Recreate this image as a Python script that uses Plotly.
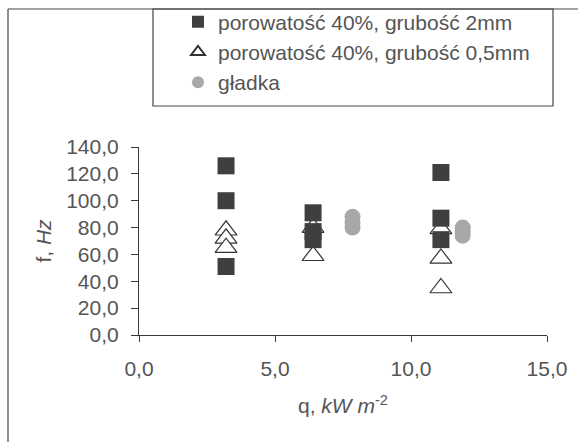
import plotly.graph_objects as go

# ---- data ----
q_2mm = [3.2, 3.2, 3.2, 6.4, 6.4, 6.4, 11.1, 11.1, 11.1]
f_2mm = [126, 100, 51, 91, 77, 71, 121, 87, 71]

q_05mm = [3.2, 3.2, 3.2, 6.4, 6.4, 11.1, 11.1, 11.1]
f_05mm = [78, 72, 65, 80, 59, 79, 57, 35]

q_smooth = [7.85, 7.85, 7.85, 11.9, 11.9, 11.9]
f_smooth = [88, 84, 80, 80, 77, 74]

x_tickvals = [0, 5, 10, 15]
x_ticktext = ["0,0", "5,0", "10,0", "15,0"]
y_tickvals = [0, 20, 40, 60, 80, 100, 120, 140]
y_ticktext = ["0,0", "20,0", "40,0", "60,0", "80,0", "100,0", "120,0", "140,0"]

names = ["porowatość 40%, grubość 2mm", "porowatość 40%, grubość 0,5mm", "gładka"]

FONT = "Liberation Sans, Arial, sans-serif"
TXT = "#555555"
AX = "#3a3a3a"

fig = go.Figure()
fig.add_trace(go.Scatter(
    x=q_05mm, y=f_05mm, mode="markers", name=names[1], legendrank=2,
    marker=dict(symbol="triangle-up", size=19, color="white",
                line=dict(color="#333333", width=1.2)),
))
fig.add_trace(go.Scatter(
    x=q_2mm, y=f_2mm, mode="markers", name=names[0], legendrank=1,
    marker=dict(symbol="square", size=17, color="#3f3f3f",
                line=dict(color="#3f3f3f", width=0)),
))
fig.add_trace(go.Scatter(
    x=q_smooth, y=f_smooth, mode="markers", name=names[2], legendrank=3,
    marker=dict(symbol="circle", size=16, color="#a8a8a8",
                line=dict(width=0)),
))

# plot area in pixels: x 139..547, y 147..335
W, H = 578, 442
L, R, T, B = 139, 547, 147, 335
pw, ph = R - L, B - T

def px(xp):
    return (xp - L) / pw

def py(yp):
    return (B - yp) / ph

fig.update_layout(
    width=W, height=H,
    margin=dict(l=L, r=W - R, t=T, b=H - B, pad=0, autoexpand=False),
    paper_bgcolor="white", plot_bgcolor="white",
    font=dict(family=FONT, size=21, color=TXT),
    showlegend=True,
    legend=dict(
        x=px(178), y=py(1.5), xanchor="left", yanchor="top",
        bgcolor="rgba(0,0,0,0)", borderwidth=0,
        font=dict(family=FONT, size=21, color=TXT),
        traceorder="normal", itemsizing="constant",
    ),
    xaxis=dict(
        range=[0, 15], tickvals=x_tickvals, ticktext=x_ticktext,
        showgrid=False, zeroline=False, showline=True, linecolor=AX, linewidth=1.2,
        ticks="outside", ticklen=6, tickcolor=AX, tickwidth=1.2,
        ticklabelstandoff=9, automargin=False,
        tickfont=dict(family=FONT, size=21, color=TXT),
        title=dict(text="q, <i>kW m</i><sup>-2</sup>", standoff=19,
                   font=dict(family=FONT, size=21, color=TXT)),
        fixedrange=True,
    ),
    yaxis=dict(
        range=[0, 140], tickvals=y_tickvals, ticktext=y_ticktext,
        showgrid=False, zeroline=False, showline=True, linecolor=AX, linewidth=1.2,
        ticks="outside", ticklen=7, tickcolor=AX, tickwidth=1.2,
        ticklabelstandoff=8, automargin=False,
        tickfont=dict(family=FONT, size=21, color=TXT),
        title=dict(text="f, <i>Hz</i>", standoff=8,
                   font=dict(family=FONT, size=21, color=TXT)),
        fixedrange=True,
    ),
    shapes=[
        # legend box
        dict(type="rect", xref="paper", yref="paper",
             x0=px(153), x1=px(553), y0=py(106), y1=py(9),
             line=dict(color="#444444", width=1.2), fillcolor="rgba(0,0,0,0)"),
        # outer chart frame (left and top edges)
        dict(type="line", xref="paper", yref="paper",
             x0=px(8), x1=px(8), y0=py(9), y1=py(445),
             line=dict(color="#444444", width=1.2)),
        dict(type="line", xref="paper", yref="paper",
             x0=px(8), x1=px(580), y0=py(9), y1=py(9),
             line=dict(color="#444444", width=1.2)),
    ],
)

fig.write_html("out.html")
